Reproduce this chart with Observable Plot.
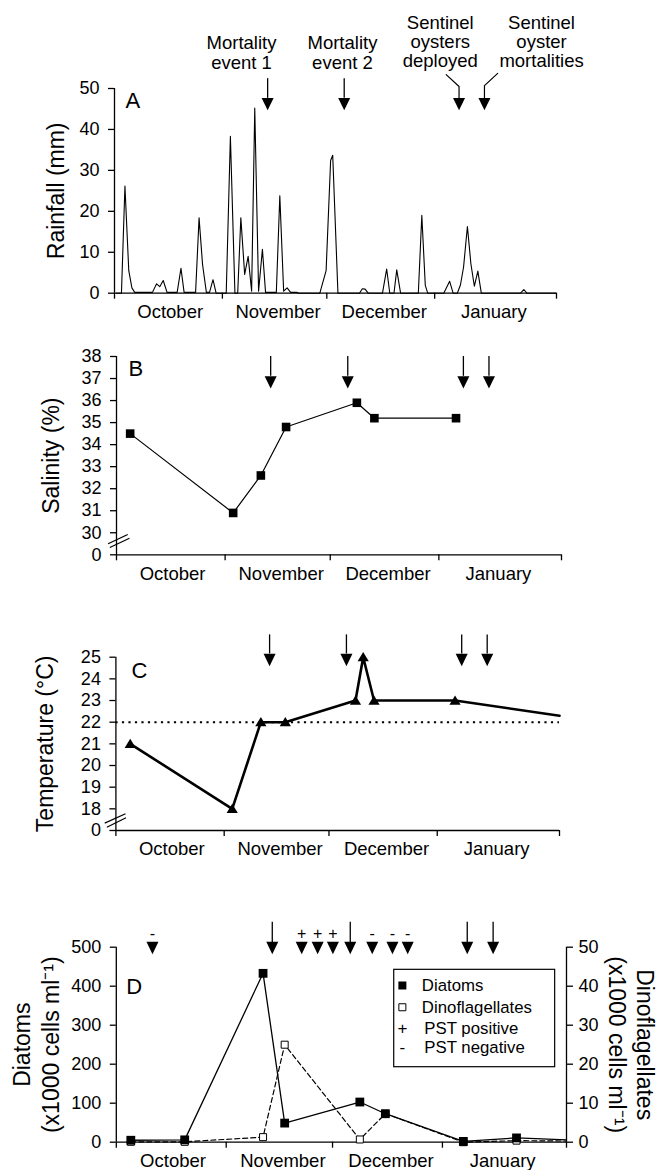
<!DOCTYPE html>
<html><head><meta charset="utf-8">
<script src="https://cdn.jsdelivr.net/npm/d3@7"></script>
<script src="https://cdn.jsdelivr.net/npm/@observablehq/plot@0.6"></script>
<style>
body{margin:0;background:#fff;}
#fig{position:relative;width:656px;height:1170px;overflow:hidden;background:#fff;}
#fig svg{position:absolute;left:0;}
</style></head><body><div id="fig"></div>
<script>
// ---------- shared ----------
const monthNames = ["October", "November", "December", "January"];
const monthLabelDays = [16, 47, 77.5, 109];
const monthBounds = [0, 31, 61, 92, 127];
const eventDays = [44, 66, 99, 106.3];

// ---------- A: rainfall ----------
const rainDays = [0.5, 2.0, 3.0, 4.1, 5.0, 5.8, 10.9, 12.1, 13.0, 14.0, 15.1, 18.0, 19.1, 20.0, 23.3, 24.3, 25.3, 26.4, 27.3, 28.3, 29.2, 32.1, 33.3, 34.6, 35.4, 36.3, 37.4, 38.4, 39.4, 40.3, 41.4, 42.5, 43.4, 46.5, 47.5, 48.6, 49.6, 50.6, 52.3, 53.0, 59.0, 60.8, 62.1, 62.7, 64.2, 70.4, 71.2, 72.0, 72.9, 77.0, 78.2, 79.1, 80.3, 81.1, 82.2, 87.3, 88.3, 89.3, 90.0, 94.6, 96.3, 97.3, 98.5, 99.4, 100.3, 101.4, 102.4, 103.4, 104.4, 105.4, 116.7, 117.6, 118.5, 127];
const rainMm   = [0, 0, 26.2, 5.5, 1.3, 0.2, 0.2, 2.3, 1.6, 3.1, 0.2, 0.2, 6.1, 0.2, 0.2, 18.4, 7.0, 0.2, 0.2, 3.3, 0, 0, 38.3, 0, 0, 18.4, 4.6, 9.0, 0.5, 45.2, 0.5, 10.7, 0.2, 0.2, 23.8, 0.5, 1.3, 0.2, 0.2, 0, 0, 5.5, 32.4, 33.7, 0, 0, 1.1, 1.0, 0, 0, 5.9, 0, 0, 5.7, 0, 0, 19.0, 1.9, 0, 0, 2.9, 0, 0, 2.0, 6.4, 16.3, 7.2, 1.7, 5.4, 0, 0, 0.9, 0, 0];
const rainTicks = [0, 10, 20, 30, 40, 50];
const eventLabels = ["Mortality\nevent 1", "Mortality\nevent 2", "Sentinel\noysters\ndeployed", "Sentinel\noyster\nmortalities"];
const eventLabelDays = [36.5, 65.5, 93.6, 122.7];

// ---------- B: salinity ----------
const salDays = [3.9, 33.3, 41.2, 48.4, 68.6, 73.6, 96.9];
const salValues = [34.5, 30.9, 32.6, 34.8, 35.9, 35.2, 35.2];
const salTicks = [29, 30, 31, 32, 33, 34, 35, 36, 37, 38];
const salTickLabels = ["0", "30", "31", "32", "33", "34", "35", "36", "37", "38"];

// ---------- C: temperature ----------
const tempDays = [4.1, 33.3, 41.5, 48.5, 68.6, 70.8, 73.9, 97.1, 127];
const tempValues = [21, 18, 22, 22, 23, 25, 23, 23, 22.3];
const tempSampled = [true, true, true, true, true, true, true, true, false];
const tempTicks = [17, 18, 19, 20, 21, 22, 23, 24, 25];
const tempTickLabels = ["0", "18", "19", "20", "21", "22", "23", "24", "25"];
const tempThreshold = 22;

// ---------- D: phytoplankton ----------
const phytoDays = [4.1, 19.3, 41.4, 47.5, 68.7, 75.9, 97.9, 112.9, 127];
const diatoms = [5, 6, 433, 49, 103, 73, 2, 11, 6];
const dinoflagellates = [0.1, 0.1, 1.3, 25, 0.7, 7.3, 0, 0.4, 0.3];
const phytoSampled = [true, true, true, true, true, true, true, true, false];
const diatomTicks = [0, 100, 200, 300, 400, 500];
const dinoTicks = [0, 10, 20, 30, 40, 50];
const pstDays = [10.2, 52.3, 56.8, 61.1, 72.2, 77.9, 82.2];
const pstSigns = ["-", "+", "+", "+", "-", "-", "-"];
const legendLabels = ["Diatoms", "Dinoflagellates", "PST positive", "PST negative"];

// ---------- helpers ----------
const FONT = '"Liberation Sans", Arial, Helvetica, sans-serif';
const rOf = s => Math.sqrt(s / Math.PI);
const squareSym = {draw(c, s) { const r = rOf(s); c.rect(-r, -r, 2 * r, 2 * r); }};
const triUp = {draw(c, s) { const r = rOf(s), h = r * 1.65; c.moveTo(0, -h * 0.55); c.lineTo(r, h * 0.45); c.lineTo(-r, h * 0.45); c.closePath(); }};
const triDown = {draw(c, s) { const r = rOf(s), h = r * 2.05; c.moveTo(-r, -h / 2); c.lineTo(r, -h / 2); c.lineTo(0, h / 2); c.closePath(); }};

const fig = document.getElementById("fig");
function place(svg, top) { svg.style.top = top + "px"; fig.appendChild(svg); }

function commonAxes(yTicks, yFmt, yBase) {
  return [
    Plot.ruleX([0], {strokeWidth: 1.3}),
    Plot.ruleY([yBase], {strokeWidth: 1.3}),
    Plot.axisY(yTicks, {tickSize: 6, tickPadding: 9, strokeWidth: 1.3, label: null, fontSize: 18, tickFormat: yFmt}),
    Plot.axisX(monthBounds, {tickSize: 6, tickFormat: () => "", strokeWidth: 1.3, label: null}),
    Plot.text(monthNames, {x: (d, i) => monthLabelDays[i], frameAnchor: "bottom", dy: 19, lineAnchor: "middle", fontSize: 18.5})
  ];
}
function yTitle(text, dx) {
  return Plot.text([text], {frameAnchor: "left", dx, rotate: -90, textAnchor: "middle", lineAnchor: "middle", fontSize: 23, lineHeight: 1.22});
}
function letter(text, dx, dy) {
  return Plot.text([text], {frameAnchor: "top-left", dx, dy, textAnchor: "start", lineAnchor: "middle", fontSize: 22});
}
const baseStyle = {fontFamily: FONT, fontSize: "18px", color: "black", background: "transparent", overflow: "visible"};

// ---------- Panel A ----------
const sentinelPaths = [
  {k: 0, x: eventDays[2] - 3.7, y: 53.4}, {k: 0, x: eventDays[2], y: 50.5}, {k: 0, x: eventDays[2], y: 47.6},
  {k: 1, x: eventDays[3] + 3.8, y: 53.7}, {k: 1, x: eventDays[3], y: 50.7}, {k: 1, x: eventDays[3], y: 47.6}
];
const A = Plot.plot({
  width: 656, height: 330,
  marginTop: 88, marginBottom: 37.3, marginLeft: 114, marginRight: 100,
  x: {domain: [0, 127], axis: null},
  y: {domain: [0, 50], axis: null},
  style: baseStyle,
  marks: [
    ...commonAxes(rainTicks, d => d, 0),
    Plot.line(rainDays, {x: d => d, y: (d, i) => rainMm[i], strokeWidth: 1.1}),
    Plot.ruleX(eventDays.slice(0, 2), {x: d => d, y1: () => 52.4, y2: () => 47.6, strokeWidth: 1.3}),
    Plot.line(sentinelPaths, {x: "x", y: "y", z: "k", strokeWidth: 1.2}),
    Plot.dot(eventDays, {x: d => d, y: () => 46.2, symbol: triDown, r: 6, fill: "black", stroke: "none"}),
    Plot.text(eventLabels, {x: (d, i) => eventLabelDays[i], y: (d, i) => i < 2 ? 58.7 : 61.4, lineHeight: 1.03, fontSize: 18.5}),
    letter("A", 11, 12),
    yTitle("Rainfall (mm)", -59)
  ]
});
place(A, 0);

// ---------- Panel B ----------
const salFmt = d => salTickLabels[salTicks.indexOf(d)];
const B = Plot.plot({
  width: 656, height: 260,
  marginTop: 26, marginBottom: 35.7, marginLeft: 116, marginRight: 95,
  x: {domain: [0, 127], axis: null},
  y: {domain: [29, 38], axis: null},
  style: baseStyle,
  marks: [
    ...commonAxes(salTicks, salFmt, 29),
    Plot.link([[-2.4, 29.5, 3.2, 29.92], [-1.9, 29.33, 3.7, 29.75]], {x1: d => d[0], y1: d => d[1], x2: d => d[2], y2: d => d[3], strokeWidth: 1.2}),
    Plot.line(salDays, {x: d => d, y: (d, i) => salValues[i], strokeWidth: 1.2}),
    Plot.dot(salDays, {x: d => d, y: (d, i) => salValues[i], symbol: squareSym, r: 4.3, fill: "black", stroke: "none"}),
    Plot.ruleX(eventDays, {x: d => d, y1: () => 38, y2: () => 37.1, strokeWidth: 1.3}),
    Plot.dot(eventDays, {x: d => d, y: () => 36.83, symbol: triDown, r: 6, fill: "black", stroke: "none"}),
    letter("B", 12, 12.5),
    yTitle("Salinity (%)", -66)
  ]
});
place(B, 330);

// ---------- Panel C ----------
const tempFmt = d => tempTickLabels[tempTicks.indexOf(d)];
const tempPts = tempDays.map((d, i) => ({d, v: tempValues[i], s: tempSampled[i]}));
const C = Plot.plot({
  width: 656, height: 280,
  marginTop: 66.7, marginBottom: 40, marginLeft: 115.4, marginRight: 97,
  x: {domain: [0, 127], axis: null},
  y: {domain: [17, 25], axis: null},
  style: baseStyle,
  marks: [
    ...commonAxes(tempTicks, tempFmt, 17),
    Plot.link([[-3.2, 17.34, 2.75, 17.77], [-2.6, 17.15, 2.9, 17.59]], {x1: d => d[0], y1: d => d[1], x2: d => d[2], y2: d => d[3], strokeWidth: 1.2}),
    Plot.ruleY([tempThreshold], {strokeWidth: 2, strokeDasharray: "2.2,4.3"}),
    Plot.line(tempPts, {x: "d", y: "v", strokeWidth: 2.6, strokeLinejoin: "round"}),
    Plot.dot(tempPts.filter(p => p.s), {x: "d", y: "v", symbol: triUp, r: 5.6, fill: "black", stroke: "none"}),
    Plot.ruleX(eventDays, {x: d => d, y1: () => 26.03, y2: () => 25.15, strokeWidth: 1.3}),
    Plot.dot(eventDays, {x: d => d, y: () => 24.87, symbol: triDown, r: 6, fill: "black", stroke: "none"}),
    letter("C", 15.5, 13.3),
    yTitle("Temperature (°C)", -71.4)
  ]
});
place(C, 590);

// ---------- Panel D ----------
const phyto = phytoDays.map((d, i) => ({d, dia: diatoms[i], dino: dinoflagellates[i] * 10, s: phytoSampled[i]}));
const legendY = [401.8, 346, 292, 242];
const D = Plot.plot({
  width: 656, height: 300,
  marginTop: 76.7, marginBottom: 28.3, marginLeft: 115.8, marginRight: 90,
  x: {domain: [0, 127], axis: null},
  y: {domain: [0, 500], axis: null},
  style: baseStyle,
  marks: [
    ...commonAxes(diatomTicks, d => d, 0),
    Plot.ruleX([127], {strokeWidth: 1.3}),
    Plot.axisY(dinoTicks.map(v => v * 10), {anchor: "right", tickSize: 6, tickPadding: 6, strokeWidth: 1.3, label: null, fontSize: 18, tickFormat: v => v / 10}),
    Plot.line(phyto, {x: "d", y: "dino", strokeWidth: 1.2, strokeDasharray: "5,3"}),
    Plot.dot(phyto.filter(p => p.s), {x: "d", y: "dino", symbol: squareSym, r: 3.5, fill: "white", stroke: "black", strokeWidth: 1}),
    Plot.line(phyto, {x: "d", y: "dia", strokeWidth: 1.3}),
    Plot.dot(phyto.filter(p => p.s), {x: "d", y: "dia", symbol: squareSym, r: 4.4, fill: "black", stroke: "none"}),
    Plot.dot(pstDays, {x: d => d, y: () => 498, symbol: triDown, r: 6, fill: "black", stroke: "none"}),
    Plot.text(pstDays, {x: d => d, y: () => 534, text: (d, i) => pstSigns[i], fontSize: 16}),
    Plot.ruleX(eventDays, {x: d => d, y1: () => 564, y2: () => 512, strokeWidth: 1.3}),
    Plot.dot(eventDays, {x: d => d, y: () => 498, symbol: triDown, r: 6, fill: "black", stroke: "none"}),
    // legend
    Plot.rect([0], {x1: () => 78.4, x2: () => 123.8, y1: () => 192.3, y2: () => 442, fill: "white", stroke: "black", strokeWidth: 1.2}),
    Plot.dot([0], {x: () => 80.7, y: () => legendY[0], symbol: squareSym, r: 4, fill: "black", stroke: "none"}),
    Plot.dot([0], {x: () => 80.7, y: () => legendY[1], symbol: squareSym, r: 3.5, fill: "white", stroke: "black", strokeWidth: 1}),
    Plot.text(["+", "-"], {x: () => 80.7, y: (d, i) => legendY[i + 2], fontSize: 17}),
    Plot.text(legendLabels, {x: (d, i) => i < 2 ? 86.2 : 86.9, y: (d, i) => legendY[i], textAnchor: "start", fontSize: 16.8}),
    letter("D", 10, 39.3),
    yTitle("Diatoms\n(x1000 cells ml⁻¹)", -80.8),
    Plot.text(["Dinoflagellates\n(x1000 cells ml⁻¹)"], {frameAnchor: "right", dx: 65.5, rotate: 90, textAnchor: "middle", lineAnchor: "middle", fontSize: 23, lineHeight: 1.22})
  ]
});
place(D, 870);
</script></body></html>
